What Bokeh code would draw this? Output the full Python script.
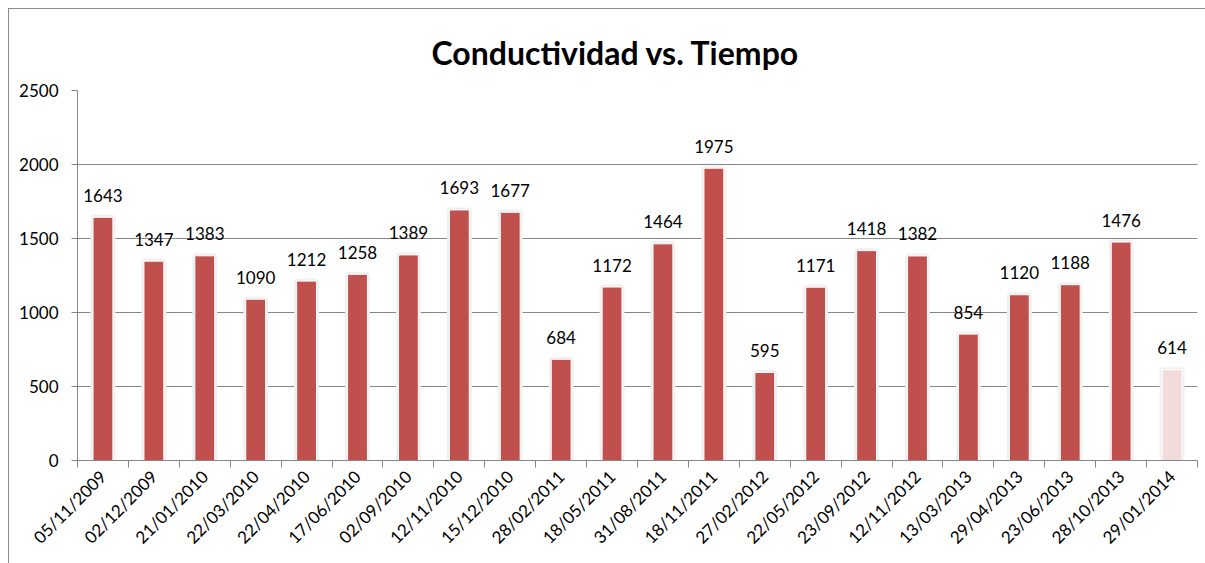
import math
from bokeh.plotting import figure
from bokeh.models import Range1d, FixedTicker, ColumnDataSource
from bokeh.core.properties import value
from bokeh.embed import file_html
from bokeh.resources import INLINE

# ---- data ----
fechas = ["05/11/2009", "02/12/2009", "21/01/2010", "22/03/2010", "22/04/2010",
          "17/06/2010", "02/09/2010", "12/11/2010", "15/12/2010", "28/02/2011",
          "18/05/2011", "31/08/2011", "18/11/2011", "27/02/2012", "22/05/2012",
          "23/09/2012", "12/11/2012", "13/03/2013", "29/04/2013", "23/06/2013",
          "28/10/2013", "29/01/2014"]
conductividad = [1643, 1347, 1383, 1090, 1212, 1258, 1389, 1693, 1677, 684,
                 1172, 1464, 1975, 595, 1171, 1418, 1382, 854, 1120, 1188,
                 1476, 614]
y_ticks = [0, 500, 1000, 1500, 2000, 2500]
titulo = "Conductividad vs. Tiempo"

n = len(fechas)
centers = [i + 0.5 for i in range(n)]
bounds = [float(i) for i in range(n + 1)]
colors = ["#C0504D"] * (n - 1) + ["#F2DCDB"]

src = ColumnDataSource(dict(x=centers, y=conductividad, c=colors,
                            lbl=[str(v) for v in conductividad]))

FONT = "Lato"

p = figure(width=1197, height=555, output_backend="svg", toolbar_location=None,
           x_range=Range1d(0, n), y_range=Range1d(0, 2500),
           min_border_left=68, min_border_right=9, min_border_top=81,
           min_border_bottom=104)
p.margin = (8, 0, 0, 8)
p.outline_line_color = None
p.background_fill_color = "white"
p.border_fill_color = "white"
p.styles = {"border-top": "1px solid #8c8c8c", "border-left": "1px solid #8c8c8c",
            "box-sizing": "border-box"}

p.title.text = titulo
p.title.text_font = FONT
p.title.text_font_size = "32px"
p.title.text_font_style = "bold"
p.title.text_color = "black"
p.title.align = "left"
p.title.offset = 354
p.title.standoff = 33
p.title.vertical_align = "top"

# shadow + bars
p.vbar(x="x", top="y", width=0.39, bottom=0, source=src,
       fill_color="#e8e8e8", line_color="#f0f0f0", line_width=5)
p.vbar(x="x", top="y", width=0.39, bottom=0, source=src,
       fill_color="c", line_color="white", line_width=1)

p.text(x="x", y="y", text="lbl", source=src, text_align="center",
       text_baseline="alphabetic", y_offset=-22,
       text_font=value(FONT), text_font_size="17px", text_color="black")

# x axis: labels at centers, ticks at boundaries
xa = p.xaxis[0]
xa.ticker = FixedTicker(ticks=centers, minor_ticks=bounds)
xa.major_label_overrides = {c: f for c, f in zip(centers, fechas)}
xa.major_label_orientation = math.pi / 4
xa.major_tick_out = 0
xa.major_tick_in = 0
xa.minor_tick_out = 7
xa.minor_tick_in = 0
xa.minor_tick_line_color = "#868686"
xa.axis_line_color = "#868686"
xa.major_label_text_font = FONT
xa.major_label_text_font_size = "17px"
xa.major_label_text_color = "black"
xa.major_label_standoff = 6

ya = p.yaxis[0]
ya.ticker = FixedTicker(ticks=y_ticks)
ya.minor_tick_line_color = None
ya.major_tick_out = 6
ya.major_tick_in = 0
ya.major_tick_line_color = "#868686"
ya.axis_line_color = "#868686"
ya.major_label_text_font = FONT
ya.major_label_text_font_size = "17px"
ya.major_label_text_color = "black"
ya.major_label_standoff = 13

p.xgrid.grid_line_color = None
p.ygrid.ticker = FixedTicker(ticks=y_ticks)
p.ygrid.grid_line_color = "#868686"
p.ygrid.grid_line_width = 1

open("out.html", "w").write(file_html(p, INLINE))
